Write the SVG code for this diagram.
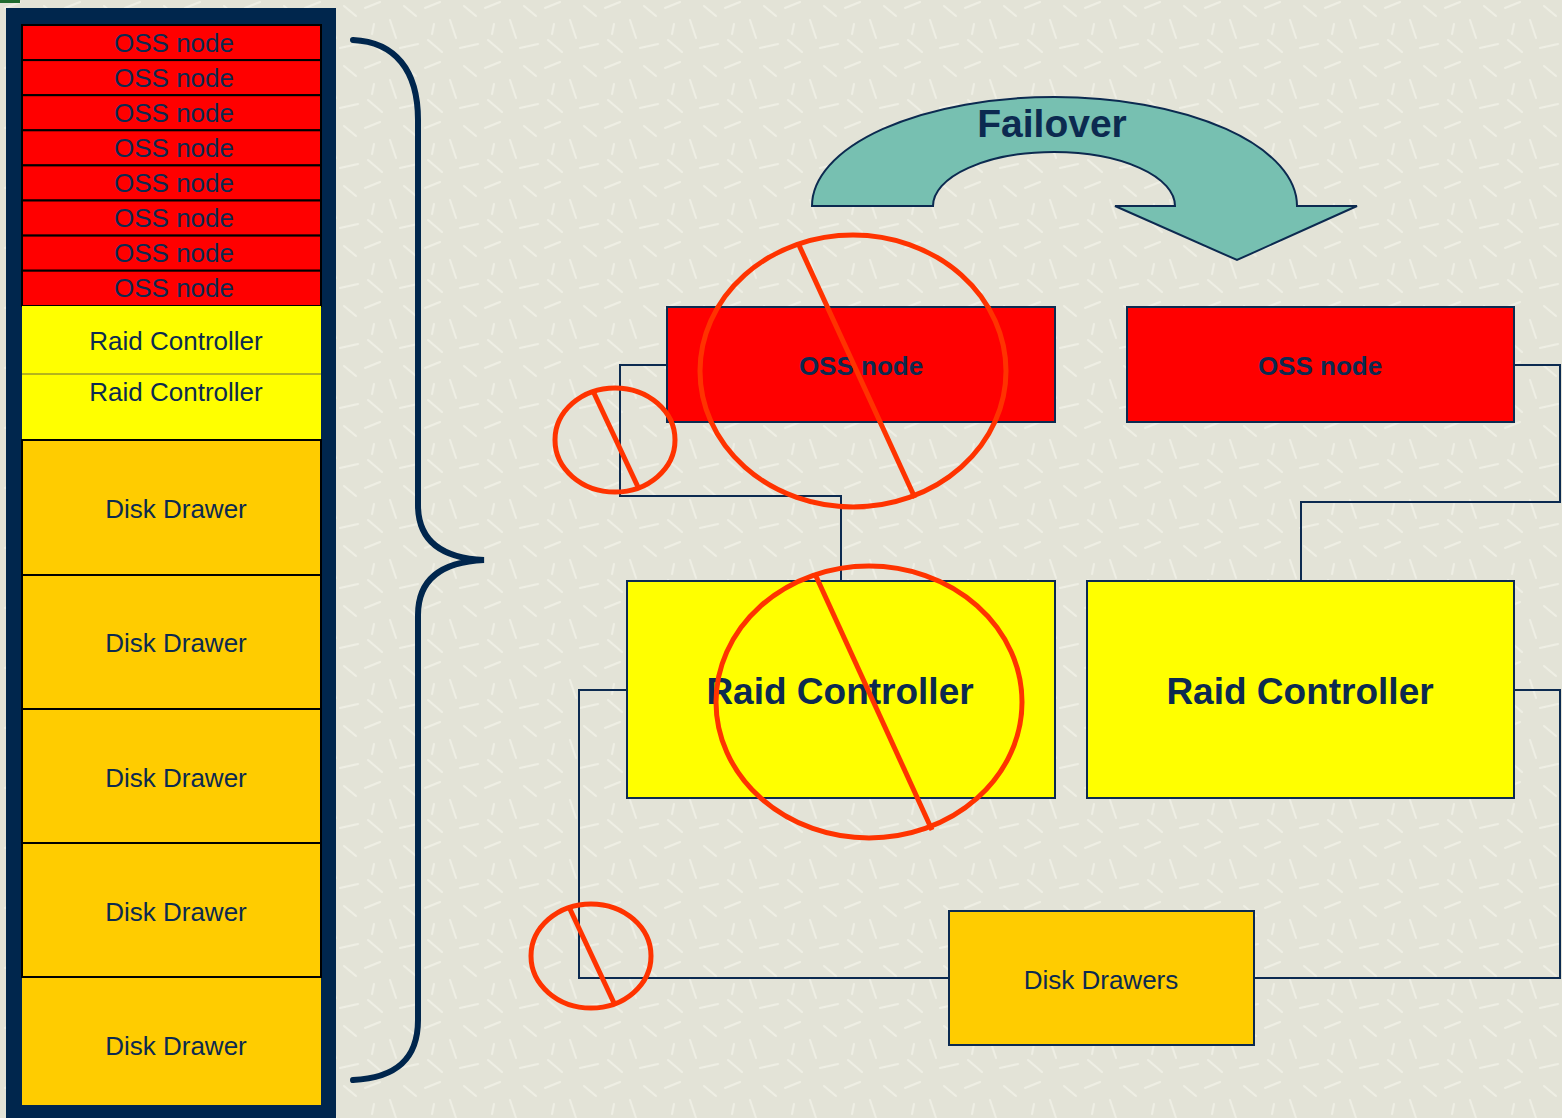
<svg xmlns="http://www.w3.org/2000/svg" width="1562" height="1118" viewBox="0 0 1562 1118">
<defs>
<style>
.t{font-family:"Liberation Sans",Arial,sans-serif;fill:#0c2a50;text-anchor:middle}
.n{font-size:26px}
.b{font-weight:bold}
.row{stroke:#000;stroke-width:2}
.box{stroke:#0c2a50;stroke-width:2}
.con{fill:none;stroke:#0c2a50;stroke-width:2}
.no{fill:none;stroke:#ff3300;stroke-width:5}
</style>
<pattern id="tex" width="60" height="60" patternUnits="userSpaceOnUse">
<rect width="60" height="60" fill="#e3e3d7"/>
<g stroke="#f2f2e8" stroke-width="2" stroke-linecap="round" opacity="0.8">
<line x1="5" y1="8" x2="20" y2="2"/>
<line x1="30" y1="20" x2="36" y2="38"/>
<line x1="44" y1="6" x2="56" y2="16"/>
<line x1="8" y1="40" x2="22" y2="52"/>
<line x1="40" y1="48" x2="58" y2="44"/>
<line x1="14" y1="24" x2="12" y2="34"/>
</g>
</pattern>
</defs>
<rect width="1562" height="1118" fill="url(#tex)"/>
<rect x="0" y="0" width="20" height="3" fill="#1f6b2f"/>

<g id="rack">
<rect x="6" y="8" width="330" height="1110" fill="#00264d"/>
<g id="rack-oss">
<rect class="row" x="22" y="25" width="299" height="35.1" fill="#ff0000"/>
<rect class="row" x="22" y="60.1" width="299" height="35.1" fill="#ff0000"/>
<rect class="row" x="22" y="95.2" width="299" height="35.1" fill="#ff0000"/>
<rect class="row" x="22" y="130.3" width="299" height="35.1" fill="#ff0000"/>
<rect class="row" x="22" y="165.4" width="299" height="35.1" fill="#ff0000"/>
<rect class="row" x="22" y="200.5" width="299" height="35.1" fill="#ff0000"/>
<rect class="row" x="22" y="235.6" width="299" height="35.1" fill="#ff0000"/>
<rect class="row" x="22" y="270.7" width="299" height="35.3" fill="#ff0000"/>
<text class="t n" x="174" y="51.5">OSS node</text>
<text class="t n" x="174" y="86.6">OSS node</text>
<text class="t n" x="174" y="121.7">OSS node</text>
<text class="t n" x="174" y="156.8">OSS node</text>
<text class="t n" x="174" y="191.9">OSS node</text>
<text class="t n" x="174" y="227">OSS node</text>
<text class="t n" x="174" y="262.1">OSS node</text>
<text class="t n" x="174" y="297.2">OSS node</text>
</g>
<g id="rack-raid">
<rect x="22" y="306" width="299" height="134" fill="#ffff00"/>
<line x1="22" y1="374" x2="321" y2="374" stroke="#6b6b3a" stroke-width="1"/>
<line x1="22" y1="440" x2="321" y2="440" stroke="#000" stroke-width="2"/>
<text class="t n" x="176" y="350">Raid Controller</text>
<text class="t n" x="176" y="401">Raid Controller</text>
</g>
<g id="rack-disks">
<rect class="row" x="22" y="440" width="299" height="135" fill="#ffcc00"/>
<rect class="row" x="22" y="575" width="299" height="134" fill="#ffcc00"/>
<rect class="row" x="22" y="709" width="299" height="134" fill="#ffcc00"/>
<rect class="row" x="22" y="843" width="299" height="134" fill="#ffcc00"/>
<rect x="22" y="977" width="299" height="128" fill="#ffcc00"/>
<line x1="22" y1="977" x2="321" y2="977" stroke="#000" stroke-width="2"/>
<text class="t n" x="176" y="518">Disk Drawer</text>
<text class="t n" x="176" y="652">Disk Drawer</text>
<text class="t n" x="176" y="787">Disk Drawer</text>
<text class="t n" x="176" y="921">Disk Drawer</text>
<text class="t n" x="176" y="1055">Disk Drawer</text>
</g>
</g>

<g id="brace">
<path d="M353,40 C395,42 418,70 418,120 L418,505 C418,540 440,558 484,560 C440,562 418,580 418,615 L418,1020 C418,1060 395,1078 353,1080" fill="none" stroke="#00264d" stroke-width="6" stroke-linecap="round"/>
</g>

<g id="connectors">
<path class="con" d="M667,365 H620 V496 H841 V581"/>
<path class="con" d="M1514,365 H1560 V502 H1301 V581"/>
<path class="con" d="M627,690 H579 V978 H949"/>
<path class="con" d="M1514,690 H1560 V978 H1254"/>
</g>

<g id="failover">
<path d="M812,206 A242.5,109 0 0 1 1297,206 L1357,206 L1237,260 L1115,206 L1175,206 A121,54 0 0 0 933,206 Z" fill="#77c0b1" stroke="#0c2a50" stroke-width="2"/>
<text class="t b" x="1052" y="137" font-size="39">Failover</text>
</g>

<g id="oss1">
<rect class="box" x="667" y="307" width="388" height="115" fill="#ff0000"/>
<text class="t n b" x="861" y="375">OSS node</text>
</g>
<g id="oss2">
<rect class="box" x="1127" y="307" width="387" height="115" fill="#ff0000"/>
<text class="t n b" x="1320" y="375">OSS node</text>
</g>
<g id="raid1">
<rect class="box" x="627" y="581" width="428" height="217" fill="#ffff00"/>
<text class="t b" x="840" y="704" font-size="37">Raid Controller</text>
</g>
<g id="raid2">
<rect class="box" x="1087" y="581" width="427" height="217" fill="#ffff00"/>
<text class="t b" x="1300" y="704" font-size="37">Raid Controller</text>
</g>
<g id="disks">
<rect class="box" x="949" y="911" width="305" height="134" fill="#ffcc00"/>
<text class="t n" x="1101" y="989">Disk Drawers</text>
</g>

<g id="failure-marks">
<ellipse class="no" cx="853" cy="371" rx="153" ry="136"/>
<line class="no" x1="798" y1="243" x2="915" y2="498"/>
<ellipse class="no" cx="869" cy="702" rx="153" ry="136"/>
<line class="no" x1="815" y1="574" x2="932" y2="830"/>
<ellipse class="no" cx="615" cy="440" rx="60" ry="52"/>
<line class="no" x1="593" y1="391" x2="638" y2="487"/>
<ellipse class="no" cx="591" cy="956" rx="60" ry="52"/>
<line class="no" x1="569" y1="907" x2="614" y2="1003"/>
</g>
</svg>
